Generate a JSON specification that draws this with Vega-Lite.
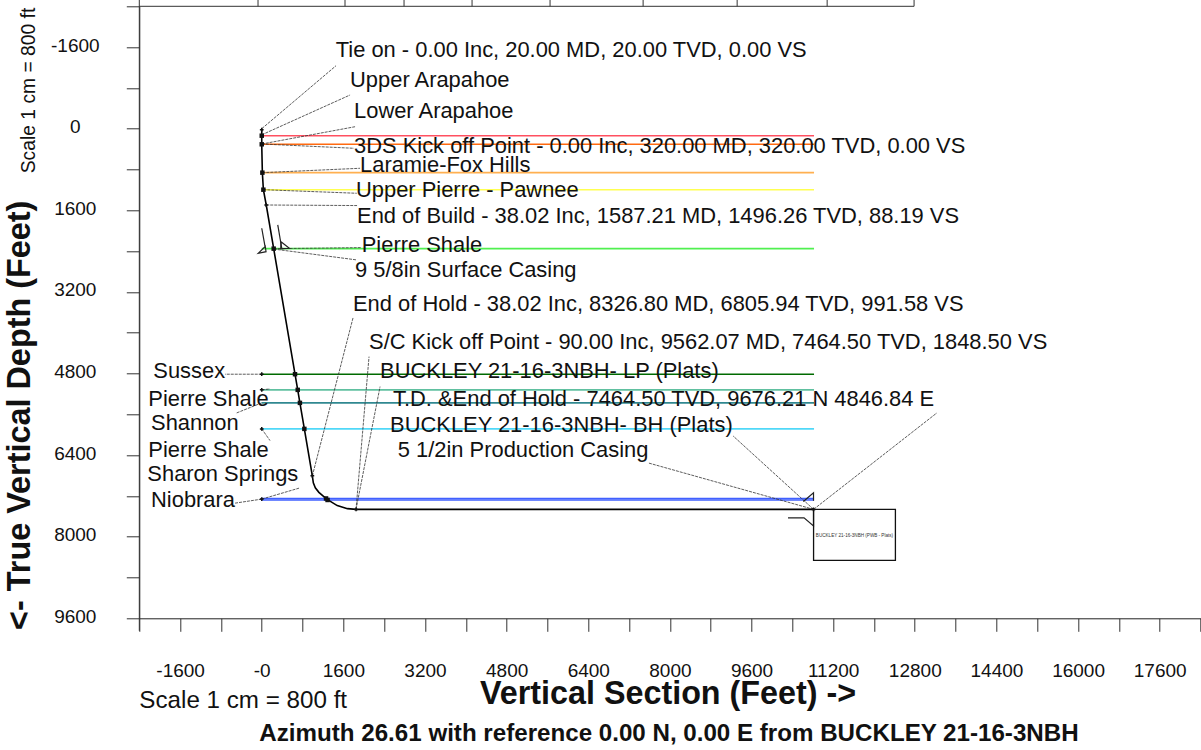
{"$schema":"https://vega.github.io/schema/vega-lite/v6.json","width":1061.2,"height":612,"autosize":{"type":"none"},"padding":{"left":139.3,"top":6.3,"right":0.5,"bottom":131.7},"background":"white","config":{"view":{"stroke":null},"font":"Liberation Sans","text":{"font":"Liberation Sans"}},
"datasets":{
"frame":[{"x":-2400,"x2":-2400,"y":-2525,"y2":9845},{"x":-2400,"x2":12786,"y":-2400,"y2":-2400},{"x":-73,"x2":-73,"y":-2525,"y2":-2400},{"x":1632,"x2":1632,"y":-2525,"y2":-2400},{"x":2789,"x2":2789,"y":-2525,"y2":-2400},{"x":4122,"x2":4122,"y":-2525,"y2":-2400},{"x":5651,"x2":5651,"y":-2525,"y2":-2400},{"x":7475,"x2":7475,"y":-2525,"y2":-2400},{"x":9318,"x2":9318,"y":-2525,"y2":-2400},{"x":11082,"x2":11082,"y":-2525,"y2":-2400},{"x":12786,"x2":12786,"y":-2525,"y2":-2400}],
"formations":[{"name":"Upper Arapahoe","x":0,"x2":10825,"y":137},{"name":"Lower Arapahoe","x":0,"x2":10825,"y":306},{"name":"Laramie-Fox Hills","x":0,"x2":10825,"y":862},{"name":"Upper Pierre - Pawnee","x":0,"x2":10825,"y":1196},{"name":"Pierre Shale A","x":0,"x2":10825,"y":2352},{"name":"Sussex","x":0,"x2":10825,"y":4814},{"name":"Pierre Shale B","x":0,"x2":10825,"y":5121},{"name":"Shannon","x":0,"x2":10825,"y":5376},{"name":"Pierre Shale C","x":0,"x2":10825,"y":5886},{"name":"Sharon Springs","x":0,"x2":10825,"y":7250},{"name":"Niobrara","x":0,"x2":10825,"y":7280}],
"path":[{"i":1,"x":0,"y":20},{"i":2,"x":0,"y":320},{"i":3,"x":12,"y":862},{"i":4,"x":32,"y":1196},{"i":5,"x":88.19,"y":1496.26},{"i":6,"x":234,"y":2352},{"i":7,"x":652,"y":4814},{"i":8,"x":705,"y":5121},{"i":9,"x":748,"y":5376},{"i":10,"x":835,"y":5886},{"i":11,"x":991.58,"y":6805.94},{"i":12,"x":1011,"y":6943},{"i":13,"x":1050,"y":7040},{"i":14,"x":1120,"y":7130},{"i":15,"x":1274,"y":7263},{"i":16,"x":1480,"y":7390},{"i":17,"x":1680,"y":7450},{"i":18,"x":1848.5,"y":7464.5},{"i":19,"x":10816,"y":7464.5}],
"squares":[{"x":0,"y":137},{"x":0,"y":306},{"x":12,"y":862},{"x":32,"y":1196},{"x":234,"y":2352},{"x":652,"y":4814},{"x":705,"y":5121},{"x":748,"y":5376},{"x":835,"y":5886},{"x":1260,"y":7250},{"x":1290,"y":7280}],
"crosses":[{"x":0,"y":20},{"x":88.19,"y":1496.26},{"x":991.58,"y":6805.94},{"x":1848.5,"y":7464.5},{"x":10816,"y":7464.5},{"x":0,"y":4814},{"x":0,"y":5121},{"x":0,"y":5886},{"x":0,"y":7263}],
"leaders":[{"id":"a","i":1,"x":0,"y":0},{"id":"a","i":2,"x":1456,"y":-1235},{"id":"b","i":1,"x":0,"y":120},{"id":"b","i":2,"x":1731,"y":-661},{"id":"c","i":1,"x":0,"y":300},{"id":"c","i":2,"x":1829,"y":-39},{"id":"d","i":1,"x":0,"y":300},{"id":"d","i":2,"x":1809,"y":384},{"id":"e","i":1,"x":12,"y":862},{"id":"e","i":2,"x":1927,"y":776},{"id":"f","i":1,"x":32,"y":1196},{"id":"f","i":2,"x":1862,"y":1266},{"id":"g","i":1,"x":88,"y":1496},{"id":"g","i":2,"x":1868,"y":1507},{"id":"h","i":1,"x":234,"y":2352},{"id":"h","i":2,"x":1946,"y":2332},{"id":"j","i":1,"x":234,"y":2360},{"id":"j","i":2,"x":1862,"y":2573},{"id":"k","i":1,"x":992,"y":6806},{"id":"k","i":2,"x":1789,"y":3710},{"id":"l","i":1,"x":1848,"y":7464},{"id":"l","i":2,"x":2103,"y":4469},{"id":"m","i":1,"x":1848,"y":7464},{"id":"m","i":2,"x":2319,"y":5057},{"id":"n","i":1,"x":10816,"y":7464},{"id":"n","i":2,"x":13234,"y":5572},{"id":"o","i":1,"x":10816,"y":7464},{"id":"o","i":2,"x":9237,"y":6023},{"id":"p","i":1,"x":10816,"y":7464},{"id":"p","i":2,"x":7571,"y":6552},{"id":"q","i":1,"x":0,"y":4814},{"id":"q","i":2,"x":-719,"y":4814},{"id":"r","i":1,"x":0,"y":5121},{"id":"r","i":2,"x":162,"y":5102},{"id":"s","i":1,"x":0,"y":5376},{"id":"s","i":2,"x":-504,"y":5578},{"id":"t","i":1,"x":0,"y":5886},{"id":"t","i":2,"x":162,"y":6115},{"id":"u","i":1,"x":0,"y":7263},{"id":"u","i":2,"x":731,"y":7048},{"id":"v","i":1,"x":0,"y":7263},{"id":"v","i":2,"x":-523,"y":7342}],
"casing":[{"id":"a","i":1,"x":0,"y":1952},{"id":"a","i":2,"x":65,"y":2313},{"id":"a","i":3,"x":-67,"y":2442},{"id":"a","i":4,"x":84,"y":2411},{"id":"a","i":5,"x":65,"y":2280},{"id":"b","i":1,"x":314,"y":1887},{"id":"b","i":2,"x":392,"y":2344},{"id":"c","i":1,"x":378,"y":2215},{"id":"c","i":2,"x":541,"y":2344},{"id":"c","i":3,"x":372,"y":2358},{"id":"c","i":4,"x":378,"y":2215},{"id":"d","i":1,"x":10615,"y":7311},{"id":"d","i":2,"x":10815,"y":7140},{"id":"d","i":3,"x":10815,"y":7297},{"id":"e","i":1,"x":10315,"y":7630},{"id":"e","i":2,"x":10629,"y":7630},{"id":"e","i":3,"x":10815,"y":7787},{"id":"e","i":4,"x":10815,"y":7464}],
"labels":[{"x":1450,"y":-1399,"t":"Tie on - 0.00 Inc, 20.00 MD, 20.00 TVD, 0.00 VS"},{"x":1731,"y":-823,"t":"Upper Arapahoe"},{"x":1809,"y":-204,"t":"Lower Arapahoe"},{"x":1809,"y":482,"t":"3DS Kick off Point - 0.00 Inc, 320.00 MD, 320.00 TVD, 0.00 VS"},{"x":1927,"y":855,"t":"Laramie-Fox Hills"},{"x":1848,"y":1345,"t":"Upper Pierre - Pawnee"},{"x":1868,"y":1842,"t":"End of Build - 38.02 Inc, 1587.21 MD, 1496.26 TVD, 88.19 VS"},{"x":1960,"y":2411,"t":"Pierre Shale"},{"x":1829,"y":2901,"t":"9 5/8in Surface Casing"},{"x":1789,"y":3573,"t":"End of Hold - 38.02 Inc, 8326.80 MD, 6805.94 TVD, 991.58 VS"},{"x":2103,"y":4324,"t":"S/C Kick off Point - 90.00 Inc, 9562.07 MD, 7464.50 TVD, 1848.50 VS"},{"x":2319,"y":4886,"t":"BUCKLEY 21-16-3NBH- LP (Plats)"},{"x":2573,"y":5429,"t":"T.D. &End of Hold - 7464.50 TVD, 9676.21 N 4846.84 E"},{"x":2515,"y":5951,"t":"BUCKLEY 21-16-3NBH- BH (Plats)"},{"x":2666,"y":6441,"t":"5 1/2in Production Casing"},{"x":-2125,"y":4892,"t":"Sussex"},{"x":-2223,"y":5429,"t":"Pierre Shale"},{"x":-2170,"y":5905,"t":"Shannon"},{"x":-2223,"y":6441,"t":"Pierre Shale"},{"x":-2242,"y":6899,"t":"Sharon Springs"},{"x":-2170,"y":7421,"t":"Niobrara"}]
},
"encoding":{
"x":{"field":"x","type":"quantitative","title":null,"scale":{"domain":[-2400,18400],"nice":false,"zero":false},"axis":{"values":[-2400,-1600,-800,0,800,1600,2400,3200,4000,4800,5600,6400,7200,8000,8800,9600,10400,11200,12000,12800,13600,14400,15200,16000,16800,17600,18400],"labelExpr":"datum.value==0?'-0':(datum.value%1600==0?''+datum.value:'')","grid":false,"tickSize":13,"tickColor":"#333","domainColor":"#222","labelPadding":45.5,"labelBaseline":"alphabetic","labelFont":"Liberation Sans","labelFontSize":19,"labelColor":"#111","labelOverlap":false,"labelFlush":false}},
"y":{"field":"y","type":"quantitative","title":null,"scale":{"domain":[-2400,9600],"reverse":true,"nice":false,"zero":false},"axis":{"values":[-2400,-1600,-800,0,800,1600,2400,3200,4000,4800,5600,6400,7200,8000,8800,9600],"labelExpr":"datum.value>-2400&&datum.value%1600==0?''+datum.value:''","grid":false,"tickSize":13,"tickColor":"#333","domainColor":"#333","labelAlign":"center","labelPadding":51.5,"labelOffset":-2,"labelFont":"Liberation Sans","labelFontSize":19,"labelColor":"#111","labelOverlap":false,"labelFlush":false}}
},
"layer":[
{"data":{"name":"frame"},"mark":{"type":"rule","color":"#333","strokeWidth":1},"encoding":{"x2":{"field":"x2"},"y2":{"field":"y2"}}},
{"data":{"name":"formations"},"mark":{"type":"rule","strokeWidth":1.6},"encoding":{"x2":{"field":"x2"},"color":{"field":"name","type":"nominal","legend":null,"scale":{"domain":["Upper Arapahoe","Lower Arapahoe","Laramie-Fox Hills","Upper Pierre - Pawnee","Pierre Shale A","Sussex","Pierre Shale B","Shannon","Pierre Shale C","Sharon Springs","Niobrara"],"range":["#ff5060","#ff6a10","#ffb050","#ffff50","#50f050","#006a00","#60c0a0","#308890","#50d8f8","#4060ff","#4060ff"]}}}},
{"data":{"name":"leaders"},"mark":{"type":"line","color":"#333","strokeWidth":0.8,"strokeDash":[3,1]},"encoding":{"detail":{"field":"id"},"order":{"field":"i"}}},
{"data":{"name":"casing"},"mark":{"type":"line","color":"#222","strokeWidth":1.2},"encoding":{"detail":{"field":"id"},"order":{"field":"i"}}},
{"data":{"name":"path"},"mark":{"type":"line","color":"black","strokeWidth":1.6},"encoding":{"order":{"field":"i"}}},
{"data":{"name":"squares"},"mark":{"type":"square","color":"#111","size":20,"opacity":1}},
{"data":{"name":"crosses"},"mark":{"type":"point","shape":"cross","color":"#111","filled":true,"size":14,"opacity":1}},
{"data":{"values":[{"x":10816,"x2":12420,"y":7464.5,"y2":8464}]},"mark":{"type":"rect","fillOpacity":0,"stroke":"#111","strokeWidth":1.3},"encoding":{"x2":{"field":"x2"},"y2":{"field":"y2"}}},
{"data":{"values":[{"x":11618,"y":7990,"t":"BUCKLEY 21-16-3NBH (PWB - Plats)"}]},"mark":{"type":"text","fontSize":4.6,"align":"center","baseline":"middle","font":"Liberation Sans","color":"#333"},"encoding":{"text":{"field":"t"}}},
{"data":{"name":"labels"},"mark":{"type":"text","fontSize":21.9,"align":"left","baseline":"alphabetic","font":"Liberation Sans","color":"#111"},"encoding":{"text":{"field":"t"}}},
{"data":{"values":[{"x":-2399,"y":11360,"t":"Scale 1 cm = 800 ft"}]},"mark":{"type":"text","fontSize":24.2,"align":"left","baseline":"alphabetic","font":"Liberation Sans","color":"#111"},"encoding":{"text":{"field":"t"}}},
{"data":{"values":[{"x":4279,"y":11276,"t":"Vertical Section (Feet) ->"}]},"mark":{"type":"text","fontSize":32.3,"fontWeight":"bold","align":"left","baseline":"alphabetic","font":"Liberation Sans","color":"#111"},"encoding":{"text":{"field":"t"}}},
{"data":{"values":[{"x":-47,"y":12001,"t":"Azimuth 26.61 with reference 0.00 N, 0.00 E from BUCKLEY 21-16-3NBH"}]},"mark":{"type":"text","fontSize":24.15,"fontWeight":"bold","align":"left","baseline":"alphabetic","font":"Liberation Sans","color":"#111"},"encoding":{"text":{"field":"t"}}},
{"data":{"values":[{"x":-4440,"y":874,"t":"Scale 1 cm = 800 ft"}]},"mark":{"type":"text","fontSize":19.3,"angle":270,"align":"left","baseline":"alphabetic","font":"Liberation Sans","color":"#111"},"encoding":{"text":{"field":"t"}}},
{"data":{"values":[{"x":-4542,"y":9827,"t":"<- True Vertical Depth (Feet)"}]},"mark":{"type":"text","fontSize":32.4,"fontWeight":"bold","angle":270,"align":"left","baseline":"alphabetic","font":"Liberation Sans","color":"#111"},"encoding":{"text":{"field":"t"}}}
]}
